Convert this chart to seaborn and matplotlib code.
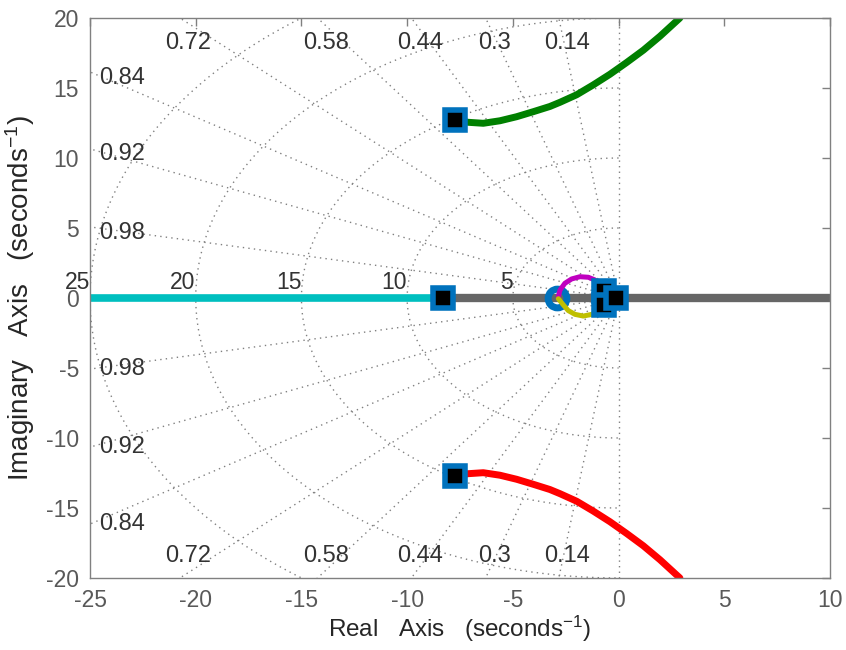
import matplotlib
matplotlib.use('Agg')
import matplotlib.pyplot as plt
import seaborn as sns
import numpy as np
import pandas as pd

# lugar das raizes
green_x = [-7.74, -7.11, -6.40, -5.61, -4.82, -4.03, -3.25, -2.77, -1.98, -1.20, -0.41, 0.38, 1.17, 1.96, 2.90]
green_y = [12.70, 12.55, 12.48, 12.66, 12.95, 13.31, 13.68, 13.98, 14.52, 15.22, 15.98, 16.82, 17.70, 18.70, 20.0]
red_x = green_x
red_y = [-v for v in green_y]
cyan_x = [-8.3, -25.0]
cyan_y = [0.0, 0.0]
gray_x = [-8.3, 10.0]
gray_y = [0.0, 0.0]
magenta_x = [-0.69, -1.12, -1.43, -1.83, -2.22, -2.54, -2.77, -2.85]
magenta_y = [0.50, 1.29, 1.48, 1.52, 1.36, 1.05, 0.57, 0.10]
yellow_x = [-0.69, -1.04, -1.27, -1.67, -2.06, -2.38, -2.61, -2.85]
yellow_y = [-0.50, -0.98, -1.17, -1.29, -1.17, -0.90, -0.50, -0.05]

pole_x = [-7.74, -7.74, -8.3, -0.69, -0.69, -0.1]
pole_y = [12.7, -12.7, 0.0, 0.5, -0.5, 0.0]
zero_x = [-2.9]
zero_y = [0.0]

# sgrid
zetas = [0.14, 0.3, 0.44, 0.58, 0.72, 0.84, 0.92, 0.98]
wns = [5, 10, 15, 20, 25]

xticks = [-25, -20, -15, -10, -5, 0, 5, 10]
yticks = [-20, -15, -10, -5, 0, 5, 10, 15, 20]

sns.set_style('white')
plt.rcParams['font.family'] = ['Liberation Sans', 'DejaVu Sans']
plt.rcParams['mathtext.default'] = 'regular'
plt.rcParams['axes.unicode_minus'] = False

fig = plt.figure(figsize=(8.46, 6.5), dpi=100)
ax = fig.add_axes([0.1064, 0.1108, 0.8747, 0.8615])

grid_kw = dict(color='#808080', linestyle=(0, (1, 3)), linewidth=1.0, zorder=1)

# retas de amortecimento
for z in zetas:
    s = np.sqrt(1 - z ** 2)
    ax.plot([0, -60 * z], [0, 60 * s], **grid_kw)
    ax.plot([0, -60 * z], [0, -60 * s], **grid_kw)
ax.plot([0, 0], [-20, 20], **grid_kw)

# circulos de frequencia natural
th = np.linspace(np.pi / 2, 3 * np.pi / 2, 200)
for w in wns:
    ax.plot(w * np.cos(th), w * np.sin(th), **grid_kw)

# textos do grid
txt_col = '#333333'
for z in zetas:
    s = np.sqrt(1 - z ** 2)
    y_left = 25 * s / z
    if y_left < 20:
        ax.text(-24.55, y_left - 0.4, '{:g}'.format(z), ha='left', va='center', fontsize=17, color=txt_col)
        ax.text(-24.55, -y_left, '{:g}'.format(z), ha='left', va='center', fontsize=17, color=txt_col)
    else:
        x_top = -20 * z / s + 0.4
        ax.text(x_top, 18.2, '{:g}'.format(z), ha='center', va='center', fontsize=17, color=txt_col)
        ax.text(x_top, -18.4, '{:g}'.format(z), ha='center', va='center', fontsize=17, color=txt_col)
for w in wns:
    ax.text(-w, 0.3, str(w), ha='right', va='bottom', fontsize=16.5, color=txt_col)

# ramos
branches = [(gray_x, gray_y, '#666666', 6, 2),
            (cyan_x, cyan_y, '#00bfbf', 5.5, 2),
            (green_x, green_y, '#008000', 5, 2),
            (red_x, red_y, '#ff0000', 5, 2),
            (magenta_x, magenta_y, '#bf00bf', 3.6, 3.5),
            (yellow_x, yellow_y, '#bfbf00', 3.6, 3.5)]
for bx, by, c, lw, zo in branches:
    df = pd.DataFrame({'x': bx, 'y': by})
    sns.lineplot(data=df, x='x', y='y', sort=False, estimator=None, color=c, linewidth=lw, ax=ax, zorder=zo)

# zeros e polos
ax.plot(zero_x, zero_y, linestyle='none', marker='o', markersize=13.5, markerfacecolor='none',
        markeredgecolor='#0072BD', markeredgewidth=5, zorder=3)
ax.plot(pole_x, pole_y, linestyle='none', marker='s', markersize=14, markerfacecolor='black',
        markeredgecolor='#0072BD', markeredgewidth=4, zorder=4)

ax.set_xlim(-25, 10)
ax.set_ylim(-20, 20)
ax.set_xticks(xticks)
ax.set_yticks(yticks)
ax.tick_params(axis='both', which='both', direction='in', top=True, right=True, length=6, width=1,
               color='#808080', labelcolor='#595959', labelsize=16.5, pad=8)
for sp in ax.spines.values():
    sp.set_color('#808080')
    sp.set_linewidth(1)
ax.set_xlabel('Real   Axis   (seconds$^{-1}$)', fontsize=17.5, color='#262626', labelpad=1)
ax.set_ylabel('Imaginary   Axis   (seconds$^{-1}$)', fontsize=20, color='#262626', labelpad=6)

fig.savefig('out.png', dpi=100)
plt.close()
